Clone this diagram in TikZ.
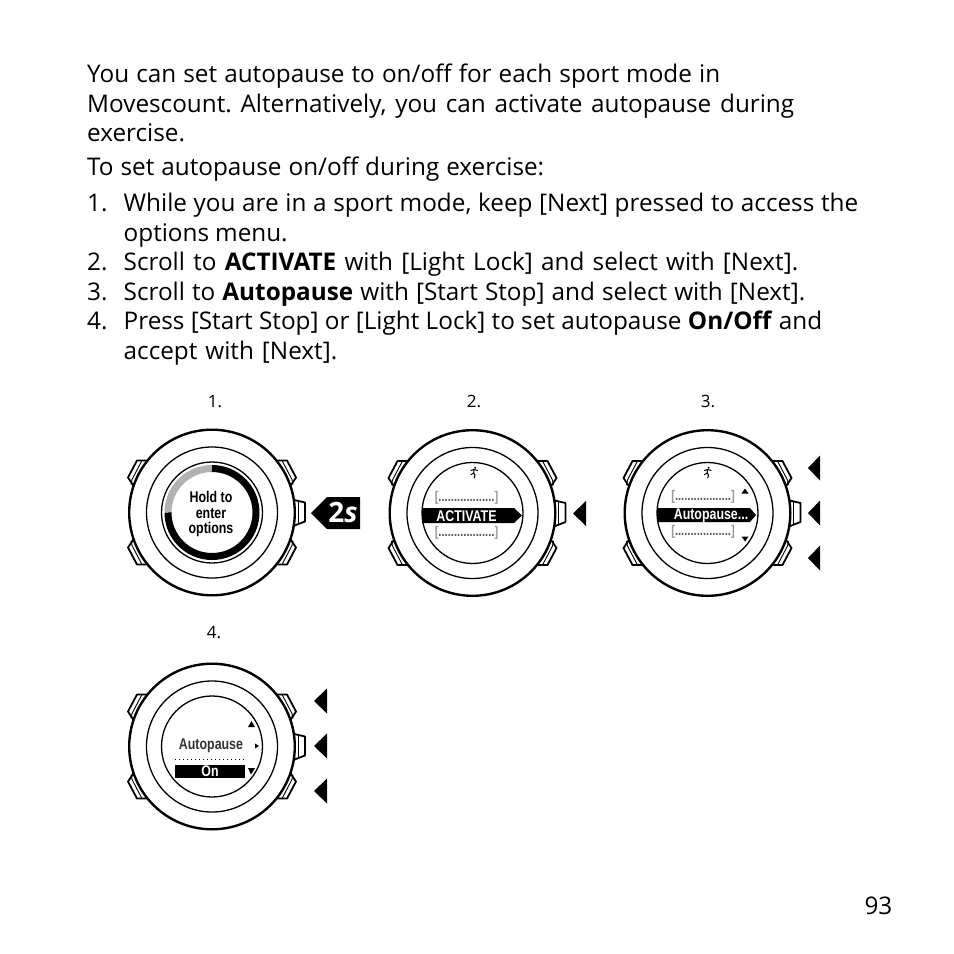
\documentclass[tikz,border=0pt]{standalone}
\usepackage{fontspec}
\setmainfont{Open Sans}
\newfontfamily\lcdfont[FakeStretch=0.8]{Liberation Sans}
\hbadness=10000 \hfuzz=20pt
\newcommand{\txtline}[4]{\node[bodytext] (#1) at (#2) {\frenchspacing\spaceskip=.26em plus 1em minus .2em\hbox to #3pt{#4}};}
\tikzset{
  bodytext/.style={anchor=base west,inner sep=0pt,font=\fontsize{24.3}{28}\selectfont,text=black},
  steplabel/.style={inner sep=0pt,font=\fontsize{17}{20}\selectfont},
  lcd/.style={inner sep=0pt,font=\lcdfont\bfseries\fontsize{15.5}{15.5}\selectfont,align=center},
  lcdsmall/.style={inner sep=0pt,font=\lcdfont\bfseries\fontsize{15.5}{15}\selectfont,align=center},
  bracket/.style={inner sep=0pt,font=\lcdfont\bfseries\fontsize{14}{15}\selectfont,text=black!40},
  watchbody/.pic={
    \foreach \s in {1,-1}{\foreach \t in {1,-1}{
      \draw[line width=1.8pt,line join=round,fill=white] (\s*61,\t*52) -- (\s*75,\t*52) -- (\s*84,\t*35) -- (\s*76,\t*23);
      \draw[line width=.9pt] (\s*70,\t*52) -- (\s*80,\t*33) -- (\s*81,\t*28);
    }}
    \draw[line width=1.8pt,line join=round,fill=white] (80,-13) -- (93,-10) -- (93,9) -- (80,14);
    \draw[line width=.9pt] (86,-11) -- (86,12);
    \fill[white] (0,0) circle (82.8);
    \draw[line width=2.4pt] (0,0) circle (82.8);
    \draw[line width=1.3pt] (0,0) circle (65.5);
  },
  runner/.pic={
    \fill (1.2,-5.2) circle (1.1);
    \draw[line width=1pt,line cap=round,line join=round] (-3,-2.5) -- (0,-3.6) -- (3.5,-2.5) (0,-3.6) -- (-0.3,0) -- (-3,1.6) (-0.3,0) -- (1,2) -- (0.2,5);
  }
}
\newcommand{\brk}{[{\color{black!65}..................}]}
\begin{document}
\begin{tikzpicture}[x=1pt,y=-1pt]
\useasboundingbox (0,0) rectangle (954,954);
\fill[white] (0,0) rectangle (954,954);

\txtline{a1}{87,82}{633}{You can set autopause to on/off for each sport mode in}
\txtline{a2}{87,112}{707}{Movescount. Alternatively, you can activate autopause during}
\node[bodytext] (a3) at (87,141.5) {exercise.};
\txtline{a4}{87,175}{457}{To set autopause on/off during exercise:}
\node[bodytext] (b1) at (87,211.5) {1.};
\txtline{c1}{123.5,211.5}{734.5}{While you are in a sport mode, keep [Next] pressed to access the}
\txtline{c1b}{123.5,241}{164}{options menu.}
\node[bodytext] (b2) at (87,270.5) {2.};
\txtline{c2}{123.5,270.5}{674.5}{Scroll to \textbf{ACTIVATE} with [Light Lock] and select with [Next].}
\node[bodytext] (b3) at (87,300) {3.};
\txtline{c3}{123.5,300}{681.5}{Scroll to \textbf{Autopause} with [Start Stop] and select with [Next].}
\node[bodytext] (b4) at (87,329.5) {4.};
\txtline{c4}{123.5,329.5}{698.5}{Press [Start Stop] or [Light Lock] to set autopause \textbf{On/Off} and}
\txtline{c4b}{123.5,359}{213.5}{accept with [Next].}

\node[steplabel] (l1) at (215,401.5) {1.};
\node[steplabel] (l2) at (474,401) {2.};
\node[steplabel] (l3) at (708,401) {3.};
\node[steplabel] (l4) at (214,633) {4.};

% watch 1
\pic at (212,512.5) {watchbody};
\draw[line width=1.3pt] (212,512.5) circle (50.5);
\draw[line width=7pt,black!30] (212,512.5) ++(-180:44) arc (-180:-90:44);
\draw[line width=7pt] (212,512.5) ++(-90:44) arc (-90:180:44);
\node[lcd] (hold) at (211,514) {Hold to\\enter\\options};
\fill (311,513) -- (327,497) -- (360,497) -- (360,529) -- (327,529) -- cycle;
\node[inner sep=0pt,text=white,font=\bfseries\fontsize{28}{28}\selectfont] (twos) at (343,512.5) {2\textit{s}};

% watch 2
\pic at (472.5,513) {watchbody};
\draw[line width=1.3pt] (472.5,513) circle (50.5);
\pic at (474,473) {runner};
\node[bracket] (b2a) at (466.5,497.5) {\brk};
\node[bracket] (b2b) at (466.5,532.5) {\brk};
\fill (422,508) -- (514,508) -- (522,515.5) -- (514,523) -- (422,523) -- cycle;
\node[lcdsmall,text=white] (act) at (466.5,516) {ACTIVATE};
\fill (573,513.5) -- (586,501) -- (586,526) -- cycle;

% watch 3
\pic at (707.5,513) {watchbody};
\draw[line width=1.3pt] (707.5,513) circle (50.5);
\pic at (707.5,473) {runner};
\node[bracket] (b3a) at (703,497) {\brk};
\node[bracket] (b3b) at (703,532) {\brk};
\fill (657,508) -- (750,508) -- (756,515) -- (750,522) -- (657,522) -- cycle;
\node[lcdsmall,text=white] (auto) at (711,516) {Autopause...};
\fill (745,488.5) -- (748.5,493.5) -- (741.5,493.5) -- cycle;
\fill (745,541.5) -- (748.5,536.5) -- (741.5,536.5) -- cycle;
\foreach \yy in {468,513,558}{\fill (808,\yy) -- (820,\yy-12.5) -- (820,\yy+12.5) -- cycle;}

% watch 4
\pic at (212,746.5) {watchbody};
\draw[line width=1.3pt] (212,746.5) circle (50.5);
\node[lcdsmall,text=black!80] (auto4) at (211,746) {Autopause};
\draw[line width=1pt,dash pattern=on 1pt off 3pt] (175,759) -- (245,759);
\fill (175,765) rectangle (245,777.5);
\node[lcdsmall,text=white] (on) at (210,771.5) {On};
\fill (251.5,721) -- (255,727) -- (248,727) -- cycle;
\fill (259,746) -- (255,743.5) -- (255,748.5) -- cycle;
\fill (251,774.5) -- (255,768) -- (248,768) -- cycle;
\foreach \yy in {701,746,791}{\fill (314,\yy) -- (327,\yy-12.5) -- (327,\yy+12.5) -- cycle;}

\node[inner sep=0pt,anchor=base east,font=\fontsize{24.3}{28}\selectfont] (page) at (892.5,914) {93};
\end{tikzpicture}
\end{document}
